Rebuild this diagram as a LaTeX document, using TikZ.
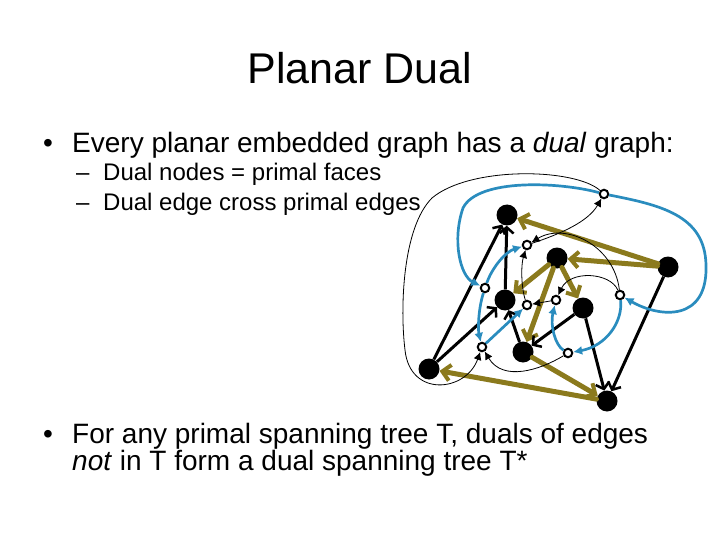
\documentclass[tikz,border=0pt]{standalone}
\usepackage{fontspec}
\setmainfont{Liberation Sans}
\usetikzlibrary{arrows.meta}
\definecolor{olivetree}{RGB}{139,122,29}
\definecolor{dualblue}{RGB}{42,140,190}
\begin{document}
\begin{tikzpicture}[x=1pt,y=-1pt,
  pnode/.style={circle,fill=black,inner sep=0pt,minimum size=21pt},
  dnode/.style={circle,draw=black,line width=2pt,fill=white,inner sep=0pt,minimum size=8.5pt},
  tedge/.style={draw=olivetree,line width=5pt,line cap=round,-{Straight Barb[length=8pt,width=16pt,line width=4pt]}},
  nedge/.style={draw=black,line width=3pt,-{Straight Barb[length=6pt,width=14pt,line width=2.5pt]}},
  bedge/.style={draw=dualblue,line width=2.7pt,-{Latex[length=9pt,width=9pt]}},
  kedge/.style={draw=black,line width=0.8pt,-{Latex[length=8pt,width=8pt]}},
  txt/.style={anchor=base west,inner sep=0pt}]
\useasboundingbox (0,0) rectangle (720,540);
% texts
\node[anchor=base,inner sep=0pt,font=\fontsize{43}{43}\selectfont] (title) at (360,84) {Planar Dual};
\node[txt,font=\fontsize{28}{28}\selectfont] (b1m) at (43,153) {•};
\node[txt,font=\fontsize{28}{28}\selectfont] (b1) at (72,153) {Every planar embedded graph has a \textit{dual} graph:};
\node[txt,font=\fontsize{24}{24}\selectfont] (s1m) at (76,181) {–};
\node[txt,font=\fontsize{24}{24}\selectfont] (s1) at (103,181) {Dual nodes = primal faces};
\node[txt,font=\fontsize{24}{24}\selectfont] (s2m) at (76,211) {–};
\node[txt,font=\fontsize{24}{24}\selectfont] (s2) at (103,211) {Dual edge cross primal edges};
\node[txt,font=\fontsize{28}{28}\selectfont] (b2m) at (43,443) {•};
\node[txt,font=\fontsize{28}{28}\selectfont] (b2) at (72,443) {For any primal spanning tree T, duals of edges};
\node[txt,font=\fontsize{28}{28}\selectfont] (b3) at (72,470) {\textit{not} in T form a dual spanning tree T*};
% primal nodes
\node[pnode] (A) at (507,215) {};
\node[pnode] (B) at (557,258) {};
\node[pnode] (C) at (668,267) {};
\node[pnode] (D) at (505,300) {};
\node[pnode] (E) at (583,308) {};
\node[pnode] (F) at (523,352) {};
\node[pnode] (G) at (429,369) {};
\node[pnode] (H) at (607,401) {};
% primal tree edges
\draw[tedge] (C) -- (A);
\draw[tedge] (C) -- (B);
\draw[tedge] (B) -- (D);
\draw[tedge] (B) -- (F);
\draw[tedge] (B) -- (E);
\draw[tedge] (F) -- (H);
\draw[tedge] (H) -- (G);
% primal non-tree edges
\draw[nedge] (G) -- (A);
\draw[nedge] (D) -- (A);
\draw[nedge] (G) -- (D);
\draw[nedge] (F) -- (D);
\draw[nedge] (E) -- (F);
\draw[nedge] (E) -- (H);
\draw[nedge] (C) -- (H);
% dual nodes
\node[dnode] (d1) at (604,194) {};
\node[dnode] (d2) at (527,245) {};
\node[dnode] (d3) at (485,288) {};
\node[dnode] (d4) at (527,305) {};
\node[dnode] (d5) at (556,300) {};
\node[dnode] (d6) at (620,295) {};
\node[dnode] (d7) at (482,347) {};
\node[dnode] (d8) at (568,353) {};
% dual tree (blue)
\draw[bedge] (d1) .. controls (560,182) and (478,178) .. (463,208) .. controls (452,240) and (460,276) .. (d3);
\draw[bedge] (d1) .. controls (660,205) and (705,215) .. (706,265) .. controls (708,322) and (660,318) .. (d6);
\draw[bedge] (d3) .. controls (478,310) and (478,330) .. (d7);
\draw[bedge] (d3) .. controls (492,268) and (505,252) .. (d2);
\draw[bedge] (d7) -- (d4);
\draw[bedge] (d8) .. controls (555,345) and (550,325) .. (d5);
\draw[bedge] (d6) .. controls (623,322) and (606,346) .. (d8);
% duals of tree edges (thin black)
\draw[kedge] (d2) .. controls (560,234) and (588,222) .. (d1);
\draw[kedge] (d6) .. controls (614,245) and (565,222) .. (d2);
\draw[kedge] (d4) .. controls (521,287) and (521,265) .. (d2);
\draw[kedge] (d5) -- (d4);
\draw[kedge] (d6) .. controls (610,272) and (570,270) .. (d5);
\draw[kedge] (d8) .. controls (540,370) and (503,382) .. (d7);
\draw[kedge] (d1) .. controls (575,168) and (470,166) .. (432,198) .. controls (402,228) and (400,310) .. (405,350) .. controls (410,398) and (466,392) .. (d7);
\end{tikzpicture}
\end{document}
